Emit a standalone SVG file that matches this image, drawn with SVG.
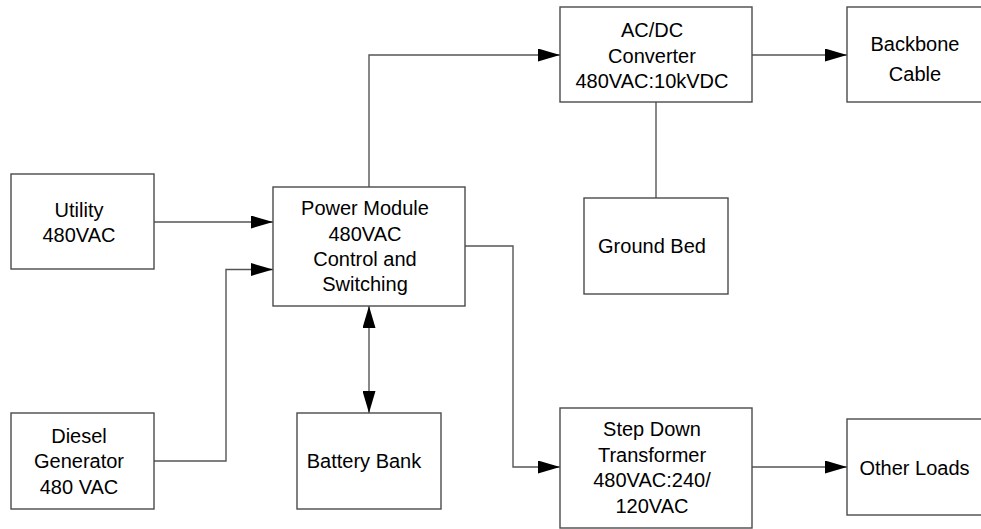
<svg xmlns="http://www.w3.org/2000/svg" width="981" height="529" viewBox="0 0 981 529">
<defs>
<marker id="arr" markerUnits="userSpaceOnUse" markerWidth="22" markerHeight="13" refX="22" refY="6.5" orient="auto-start-reverse" viewBox="0 0 22 13">
<path d="M0,0 L22,6.5 L0,13 z" fill="#000"/>
</marker>
<style>
.box{fill:#fff;stroke:#4a4a4a;stroke-width:1.4}
.t{font-family:"Liberation Sans",Arial,sans-serif;font-size:20px;fill:#000;text-anchor:middle}
.c{fill:none;stroke:#555;stroke-width:1.4}
</style>
</defs>
<rect width="981" height="529" fill="#fff"/>
<g id="connectors">
<path class="c" d="M154,222 H273" marker-end="url(#arr)"/>
<path class="c" d="M154,461 H226 V269.5 H273" marker-end="url(#arr)"/>
<path class="c" d="M369,187 V55 H560" marker-end="url(#arr)"/>
<path class="c" d="M752,55 H847" marker-end="url(#arr)"/>
<path class="c" d="M656,102 V198"/>
<path class="c" d="M465,246 H513 V467 H560" marker-end="url(#arr)"/>
<path class="c" d="M752,467 H847" marker-end="url(#arr)"/>
<path class="c" d="M369,306 V413" marker-start="url(#arr)" marker-end="url(#arr)"/>
</g>
<g id="utility">
<rect class="box" x="11" y="174" width="143" height="95"/>
<text class="t" x="79" y="217">Utility</text>
<text class="t" x="79" y="241.5">480VAC</text>
</g>
<g id="diesel">
<rect class="box" x="11" y="413" width="143" height="96"/>
<text class="t" x="79" y="443">Diesel</text>
<text class="t" x="79" y="468">Generator</text>
<text class="t" x="79" y="493.5">480 VAC</text>
</g>
<g id="power-module">
<rect class="box" x="273" y="187" width="192" height="119"/>
<text class="t" x="365" y="215">Power Module</text>
<text class="t" x="365" y="241">480VAC</text>
<text class="t" x="365" y="266">Control and</text>
<text class="t" x="365" y="291">Switching</text>
</g>
<g id="battery-bank">
<rect class="box" x="297" y="413" width="144" height="96"/>
<text class="t" x="364" y="468">Battery Bank</text>
</g>
<g id="acdc-converter">
<rect class="box" x="560" y="7" width="192" height="95"/>
<text class="t" x="652" y="37">AC/DC</text>
<text class="t" x="652" y="62.5">Converter</text>
<text class="t" x="652" y="88">480VAC:10kVDC</text>
</g>
<g id="backbone-cable">
<rect class="box" x="847" y="7" width="144" height="95"/>
<text class="t" x="915" y="51">Backbone</text>
<text class="t" x="915" y="81">Cable</text>
</g>
<g id="ground-bed">
<rect class="box" x="584" y="198" width="144" height="96"/>
<text class="t" x="652" y="252.5">Ground Bed</text>
</g>
<g id="step-down-transformer">
<rect class="box" x="560" y="408" width="192" height="120"/>
<text class="t" x="652" y="436">Step Down</text>
<text class="t" x="652" y="461.5">Transformer</text>
<text class="t" x="652" y="487">480VAC:240/</text>
<text class="t" x="652" y="512.5">120VAC</text>
</g>
<g id="other-loads">
<rect class="box" x="847" y="419" width="144" height="96"/>
<text class="t" x="914.5" y="475">Other Loads</text>
</g>
</svg>
